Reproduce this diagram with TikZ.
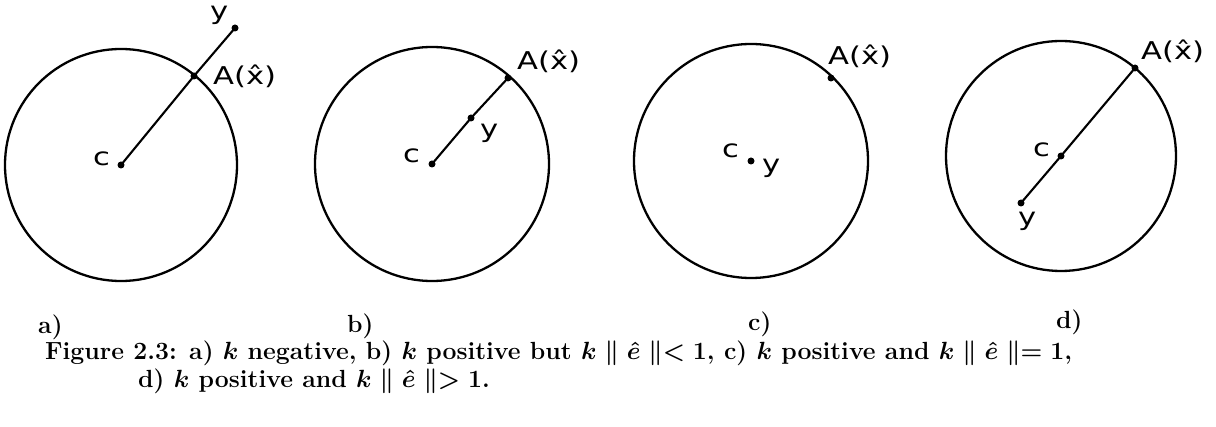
\documentclass[tikz,border=0pt]{standalone}
\usepackage{fontspec}
\newfontfamily\labfont{DejaVu Sans}
\newcommand\widetxt[1]{\scalebox{1.25}[1]{#1}}
\newcommand\Ahat{\widetxt{A(x^^^^0302)}}
\begin{document}
\begin{tikzpicture}[x=1pt,y=-1pt,
  ring/.style={line width=2.3pt},
  seg/.style={line width=2.1pt},
  dot/.style={circle,fill=black,inner sep=0pt,minimum size=7pt},
  lbl/.style={font=\labfont\fontsize{24.5}{28}\selectfont,inner sep=0pt,anchor=base west},
  sublbl/.style={font=\bfseries\fontsize{24.8}{28}\selectfont,inner sep=0pt,anchor=base west},
  captxt/.style={font=\bfseries\boldmath\fontsize{24.8}{28}\selectfont,inner sep=0pt,anchor=base west},
]
\useasboundingbox (0,0) rectangle (1216,427);

% ---- a)
\coordinate (ca) at (121,165);
\coordinate (Aa) at (194,76);
\coordinate (ya) at (235,28);
\draw[ring] (ca) circle[radius=116];
\draw[seg] (ca) -- (Aa) -- (ya);
\node[dot] (dca) at (ca) {};
\node[dot] (dAa) at (Aa) {};
\node[dot] (dya) at (ya) {};
\node[lbl] (lca) at (93,166) {\widetxt{c}};
\node[lbl] (lya) at (210,20) {\widetxt{y}};
\node[lbl] (lAa) at (213,85) {\Ahat};

% ---- b)
\coordinate (cb) at (432,164);
\coordinate (Ab) at (508,78);
\coordinate (yb) at (471,118);
\draw[ring] (cb) circle[radius=117];
\draw[seg] (cb) -- (yb) -- (Ab);
\node[dot] (dcb) at (cb) {};
\node[dot] (dAb) at (Ab) {};
\node[dot] (dyb) at (yb) {};
\node[lbl] (lcb) at (403,163) {\widetxt{c}};
\node[lbl] (lyb) at (480,138) {\widetxt{y}};
\node[lbl] (lAb) at (517,70) {\Ahat};

% ---- c)
\coordinate (cc) at (751,161);
\coordinate (Ac) at (831,78);
\draw[ring] (cc) circle[radius=117];
\node[dot] (dcc) at (cc) {};
\node[dot] (dAc) at (Ac) {};
\node[lbl] (lcc) at (722,158) {\widetxt{c}};
\node[lbl] (lyc) at (762,173) {\widetxt{y}};
\node[lbl] (lAc) at (828,65) {\Ahat};

% ---- d)
\coordinate (cd) at (1061,156);
\coordinate (Ad) at (1135,68);
\coordinate (yd) at (1021,203);
\draw[ring] (cd) circle[radius=115];
\draw[seg] (yd) -- (cd) -- (Ad);
\node[dot] (dcd) at (cd) {};
\node[dot] (dAd) at (Ad) {};
\node[dot] (dyd) at (yd) {};
\node[lbl] (lcd) at (1033,157) {\widetxt{c}};
\node[lbl] (lyd) at (1018,226) {\widetxt{y}};
\node[lbl] (lAd) at (1141,60) {\Ahat};

% ---- sub labels
\node[sublbl] (sa) at (38,334) {a)};
\node[sublbl] (sb) at (347,333) {b)};
\node[sublbl] (sc) at (748,331) {c)};
\node[sublbl] (sd) at (1056,329) {d)};

% ---- caption
\node[captxt] (cap1) at (45,360) {Figure 2.3: a) $k$ negative, b) $k$ positive but $k \parallel \hat{e} \parallel < 1$, c) $k$ positive and $k \parallel \hat{e} \parallel = 1$,};
\node[captxt] (cap2) at (138,388) {d) $k$ positive and $k \parallel \hat{e} \parallel > 1$.};
\end{tikzpicture}
\end{document}
